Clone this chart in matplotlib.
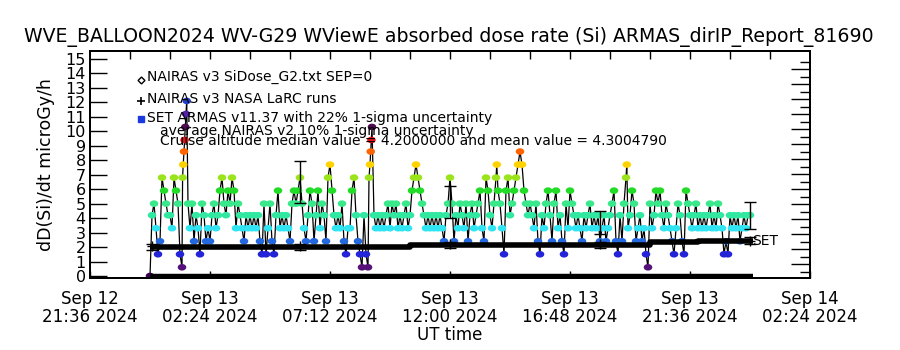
import numpy as np
import pandas as pd
import matplotlib
matplotlib.use("Agg")
import matplotlib.pyplot as plt
import matplotlib.dates as mdates
from matplotlib.path import Path
from matplotlib.ticker import FixedLocator, FuncFormatter, NullFormatter

# ---------------- data ----------------
title = "WVE_BALLOON2024 WV-G29 WViewE absorbed dose rate (Si) ARMAS_dirIP_Report_81690"
ylabel = "dD(Si)/dt microGy/h"
xlabel = "UT time"
legend_lines = ["NAIRAS v3 SiDose_G2.txt SEP=0",
                "NAIRAS v3 NASA LaRC runs",
                "SET ARMAS v11.37 with 22% 1-sigma uncertainty",
                "average NAIRAS v2 10% 1-sigma uncertainty",
                "Cruise altitude median value = 4.2000000 and mean value = 4.3004790"]

x_start = "2024-09-12 21:36"
x_end = "2024-09-14 02:24"
data_start = "2024-09-13 00:00"
armas_cadence_s = 288

# ARMAS dose rate, one value every 4.8 min from Sep 13 00:00
armas_values = [
    0.0, 4.2, 5.0, 3.3, 1.5, 2.4, 6.8, 5.9, 5.0, 4.2,
    4.2, 3.3, 6.8, 5.9, 5.0, 1.5, 0.6, 8.6, 11.2, 5.0,
    3.3, 5.0, 2.4, 4.2, 3.3, 1.5, 5.0, 4.2, 2.4, 3.3,
    2.4, 4.2, 5.0, 3.3, 4.2, 5.9, 6.8, 5.0, 4.2, 5.9,
    5.0, 6.8, 5.9, 3.3, 5.0, 4.2, 3.3, 2.4, 4.2, 3.3,
    4.2, 3.3, 4.2, 3.3, 4.2, 2.4, 1.5, 5.0, 1.5, 3.3,
    5.0, 2.4, 1.5, 4.2, 5.9, 3.3, 4.2, 3.3, 4.2, 3.3,
    2.4, 5.0, 5.9, 5.0, 5.9, 6.8, 5.0, 3.3, 2.4, 4.2,
    5.9, 5.0, 2.4, 4.2, 5.9, 3.3, 5.0, 4.2, 2.4, 6.8,
    7.7, 5.9, 4.2, 3.3, 4.2, 3.3, 5.0, 2.4, 1.5, 3.3,
    3.3, 5.9, 6.8, 4.2, 2.4, 1.5, 0.6, 4.2, 1.5, 0.6,
    7.7, 10.3, 4.2, 3.3, 4.2, 3.3, 4.2, 3.3, 4.2, 5.0,
    3.3, 5.0, 4.2, 5.0, 3.3, 4.2, 3.3, 4.2, 5.0, 3.3,
    4.2, 5.9, 6.8, 7.7, 6.8, 5.9, 5.0, 4.2, 3.3, 4.2,
    3.3, 4.2, 3.3, 4.2, 3.3, 4.2, 3.3, 2.4, 4.2, 5.0,
    6.8, 5.0, 2.4, 4.2, 3.3, 5.0, 4.2, 3.3, 5.0, 2.4,
    4.2, 5.0, 3.3, 4.2, 5.0, 5.9, 3.3, 2.4, 6.8, 5.9,
    4.2, 3.3, 5.0, 6.8, 5.9, 5.0, 3.3, 1.5, 5.9, 6.8,
    4.2, 5.0, 5.9, 6.8, 7.7, 8.6, 7.7, 5.9, 5.0, 4.2,
    5.0, 4.2, 3.3, 5.0, 2.4, 1.5, 4.2, 3.3, 5.0, 5.9,
    4.2, 2.4, 5.0, 5.9, 3.3, 4.2, 2.4, 1.5, 5.0, 3.3,
    5.9, 5.0, 4.2, 3.3, 4.2, 3.3, 2.4, 4.2, 3.3, 4.2,
    5.0, 3.3, 4.2, 3.3, 4.2, 2.4, 3.3, 4.2, 2.4, 3.3,
    4.2, 5.0, 5.9, 2.4, 1.5, 4.2, 2.4, 5.0, 6.8, 3.3,
    4.2, 5.9, 5.0, 2.4, 3.3, 4.2, 2.4, 3.3, 1.5, 0.6,
    5.0, 3.3, 4.2, 5.9, 5.0, 5.9, 4.2, 3.3, 5.0, 4.2,
    3.3, 2.4, 1.5, 3.3, 5.0, 4.2, 2.4, 1.5, 5.9, 5.0,
    4.2, 3.3, 4.2, 5.0, 3.3, 4.2, 3.3, 4.2, 3.3, 4.2,
    5.0, 3.3, 4.2, 3.3, 5.0, 4.2, 3.3, 1.5, 2.4, 1.5,
    4.2, 3.3, 4.2, 3.3, 4.2, 2.4, 3.3, 4.2, 3.3, 4.2,
    4.2,
]
# extra fast ARMAS samples during the short spikes (minutes after Sep 13 00:00)
burst_minutes = [78.2, 79.7, 83.0, 84.7, 88.1, 525.6, 529.7, 531.4, 832.3, 1144.3]
burst_values = [6.8, 7.7, 9.4, 10.3, 12.1, 6.8, 8.6, 9.4, 7.7, 7.7]

# ARMAS levels and their colours
level_values = [0.0, 0.6, 1.5, 2.4, 3.3, 4.2, 5.0, 5.9, 6.8, 7.7, 8.6, 9.4, 10.3, 11.2, 12.1]
level_colors = ["#3a0050", "#551177", "#2323d8", "#2468e0", "#30e4f2", "#30e8a0",
                "#3ae88c", "#22dc28", "#9be41c", "#ffd200", "#ff6400", "#e81010",
                "#4e0a4e", "#5420a8", "#2040cc"]

# ARMAS 22% uncertainty bars (hours after Sep 13 00:00)
armas_err_hours = [6.0, 12.0, 18.0, 24.0]
armas_err_values = [6.5, 5.1, 3.7, 4.2]
armas_err_frac = 0.22

# NAIRAS model (thick line), hours after Sep 13 00:00
nairas_hours = [0.0, 10.4, 20.0, 21.9, 24.1]
nairas_values = [2.0, 2.15, 2.35, 2.45, 2.45]
nairas_err_hours = [0.1, 6.0, 12.0, 18.0, 24.0]
nairas_err_values = [2.0, 2.0, 2.15, 2.15, 2.45]
nairas_err_frac = 0.10

# NASA LaRC runs
larc_hours = [0.1, 6.0, 12.0, 18.0, 24.0]
larc_values = [2.05, 2.05, 2.2, 2.2, 2.45]

# SiDose G2 SEP=0
sidose_hours = [0.0, 24.1]
sidose_values = [0.0, 0.0]

yticks = list(range(0, 16))

# ---------------- figure ----------------
fig = plt.figure(figsize=(9, 3.5), dpi=100)
ax = fig.add_axes([90 / 900, 1 - 278 / 350, 720 / 900, 227 / 350])

t_data0 = pd.Timestamp(data_start)
main_t = [t_data0 + pd.Timedelta(seconds=armas_cadence_s * i) for i in range(len(armas_values))]
burst_t = [t_data0 + pd.Timedelta(minutes=m) for m in burst_minutes]
all_t = np.array(mdates.date2num(main_t + burst_t))
all_v = np.array(armas_values + burst_values)
order = np.argsort(all_t)
all_t = all_t[order]
all_v = all_v[order]


def hrs(h):
    return mdates.date2num([t_data0 + pd.Timedelta(hours=x) for x in h])


lv = np.array(level_values)
cols = [level_colors[int(np.argmin(np.abs(lv - v)))] for v in all_v]

theta = np.linspace(0, 2 * np.pi, 40)
ell = Path(np.column_stack([1.3 * np.cos(theta), np.sin(theta)]))

ax.plot(all_t, all_v, color="black", lw=0.9, zorder=2)
ax.scatter(all_t, all_v, c=cols, s=38, marker=ell, linewidths=0, zorder=3)

ax.plot(hrs(sidose_hours), sidose_values, color="black", lw=3.2, zorder=4,
        solid_capstyle="butt")
ax.plot(hrs(nairas_hours), nairas_values, color="black", lw=4.0, zorder=4,
        drawstyle="steps-post", solid_capstyle="butt")
ax.errorbar(hrs(nairas_err_hours), nairas_err_values,
            yerr=np.array(nairas_err_values) * nairas_err_frac, fmt="none",
            ecolor="black", elinewidth=1, capsize=4, capthick=1, zorder=5)
ax.errorbar(hrs(armas_err_hours), armas_err_values,
            yerr=np.array(armas_err_values) * armas_err_frac, fmt="none",
            ecolor="black", elinewidth=1, capsize=4, capthick=1, zorder=5)
ax.plot(hrs(larc_hours), larc_values, "+", color="black", ms=7, mew=1, zorder=5)

ax.text(hrs([nairas_hours[-1]])[0], nairas_values[-1], "SET", fontsize=10,
        ha="left", va="center", color="black")

ax.set_xlim(mdates.date2num(pd.Timestamp(x_start)), mdates.date2num(pd.Timestamp(x_end)))
ax.set_ylim(-0.14, 15.55)


def fmt_date(v, p):
    d = pd.Timestamp(mdates.num2date(v)).round("min")
    return d.strftime("%b %d\n%H:%M %Y")


xt = mdates.date2num([pd.Timestamp(x_start) + pd.Timedelta(hours=4.8 * k) for k in range(7)])
ax.xaxis.set_major_locator(FixedLocator(xt))
ax.xaxis.set_major_formatter(FuncFormatter(fmt_date))
ax.set_yticks(yticks)
ax.tick_params(axis="x", direction="in", length=5, width=1, labelsize=12, pad=9,
               top=False)
ax.tick_params(axis="y", direction="in", length=12, width=1, labelsize=11.5, pad=3,
               right=False)
for lab in ax.get_xticklabels():
    lab.set_linespacing(0.95)
for s in ax.spines.values():
    s.set_linewidth(1.2)

# top axis ticks
axt = ax.twiny()
axt.set_xlim(0, 720)
axt.xaxis.set_major_locator(FixedLocator(np.arange(40, 720, 40)))
axt.xaxis.set_major_formatter(NullFormatter())
axt.tick_params(axis="x", direction="in", length=6, width=1)
# right axis ticks
axr = ax.twinx()
axr.set_ylim(0, 227)
axr.yaxis.set_major_locator(FixedLocator(13.7 + 15 * np.arange(14)))
axr.yaxis.set_minor_locator(FixedLocator(6.2 + 15 * np.arange(15)))
axr.yaxis.set_major_formatter(NullFormatter())
axr.tick_params(axis="y", which="major", direction="in", length=14, width=1)
axr.tick_params(axis="y", which="minor", direction="in", length=7, width=1)
for a in (axt, axr):
    for s in a.spines.values():
        s.set_linewidth(1.2)

fig.text(449 / 900, 1 - 37 / 350, title, fontsize=13.6, ha="center", va="center")
fig.text(46 / 900, 1 - 165 / 350, ylabel, fontsize=12.5, rotation=90,
         ha="center", va="center")
fig.text(450 / 900, 1 - 335 / 350, xlabel, fontsize=12, ha="center", va="center")

# legend
leg_y = [77, 99, 118]
fig.text(147 / 900, 1 - leg_y[0] / 350, legend_lines[0], fontsize=10, va="center")
fig.text(147 / 900, 1 - leg_y[1] / 350, legend_lines[1], fontsize=10, va="center")
fig.text(147 / 900, 1 - leg_y[2] / 350, legend_lines[2], fontsize=10, va="center")
fig.text(160 / 900, 1 - 131 / 350, legend_lines[3], fontsize=10, va="center")
fig.text(160 / 900, 1 - 141 / 350, legend_lines[4], fontsize=10, va="center")
ax.plot([141 / 900], [1 - 80 / 350], marker="D", ms=3.5, mfc="white", mec="black",
        mew=1, transform=fig.transFigure, clip_on=False)
ax.plot([141 / 900], [1 - 101 / 350], marker="+", ms=6, mec="black", mew=1.2,
        transform=fig.transFigure, clip_on=False)
ax.plot([141 / 900], [1 - 119 / 350], marker="s", ms=4, mfc="#1a3ae0", mec="#1a3ae0",
        transform=fig.transFigure, clip_on=False)

fig.savefig("out.png", dpi=100)
